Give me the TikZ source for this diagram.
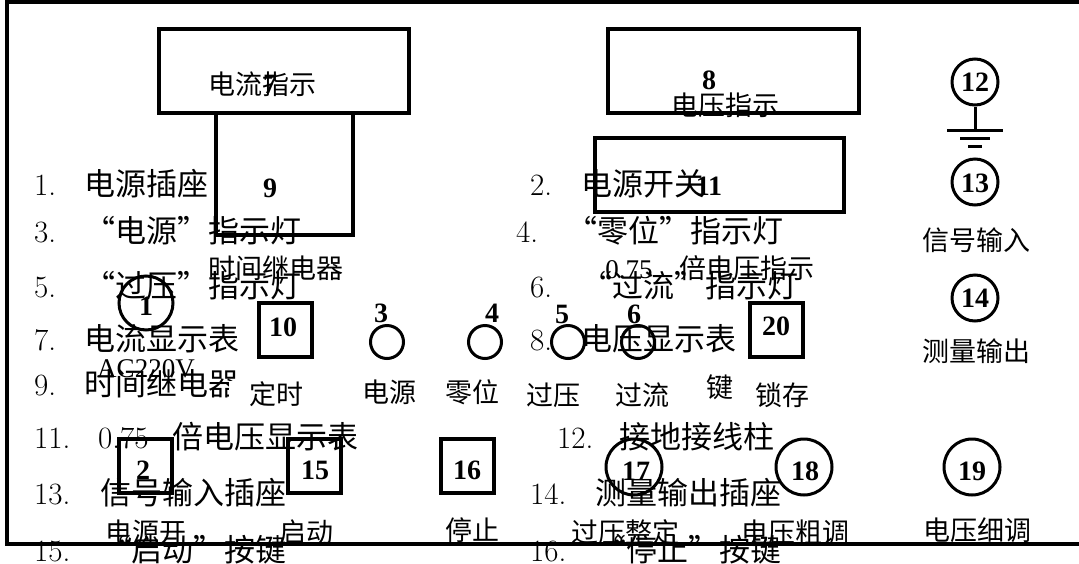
\documentclass[tikz,border=0pt]{standalone}
\usepackage{fontspec}
\newfontfamily\cjk[CharacterWidth=Full]{Noto Sans CJK SC}
\newfontfamily\tnr{Liberation Serif}
\begin{document}
\begin{tikzpicture}[x=1pt,y=-1pt,
  lnum/.style={font=\fontsize{31}{31}\selectfont, anchor=base west, inner sep=0pt},
  lst/.style={font=\cjk\fontsize{31}{31}\selectfont, anchor=base west, inner sep=0pt},
  lbl/.style={font=\cjk\fontsize{27}{27}\selectfont, inner sep=0pt},
  num/.style={font=\tnr\bfseries\fontsize{28}{28}\selectfont, inner sep=0pt},
  boxs/.style={draw, line width=4pt, inner sep=0pt},
  circs/.style={draw, circle, line width=3pt, inner sep=0pt},
  frame/.style={line width=4pt},
  gnd/.style={line width=3pt}]
\useasboundingbox (0,0) rectangle (1079,563);
% list
\node[lnum] (n1) at (34,195) {1.};   \node[lst] (t1) at (84,195) {电源插座};
\node[lnum] (n2) at (530,195) {2.};  \node[lst] (t2) at (581,195) {电源开关};
\node[lnum] (n3) at (34,242) {3.};   \node[lst] (t3) at (84,242) {“电源”指示灯};
\node[lnum] (n4) at (516,242) {4.};  \node[lst] (t4) at (566,242) {“零位”指示灯};
\node[lnum] (n5) at (34,297) {5.};   \node[lst] (t5) at (84,297) {“过压”指示灯};
\node[lnum] (n6) at (530,297) {6.};  \node[lst] (t6) at (581,297) {“过流”指示灯};
\node[lnum] (n7) at (34,350) {7.};   \node[lst] (t7) at (84,350) {电流显示表};
\node[lnum] (n8) at (530,350) {8.};  \node[lst] (t8) at (581,350) {电压显示表};
\node[lnum] (n9) at (34,395) {9.};   \node[lst] (t9) at (84,395) {时间继电器};
\node[lnum] (n11) at (34,448) {11.}; \node[lnum] (d11) at (98,448) {0.75}; \node[lst] (t11) at (172,448) {倍电压显示表};
\node[lnum] (n12) at (557,448) {12.}; \node[lst] (t12) at (619,448) {接地接线柱};
\node[lnum] (n13) at (34,504) {13.}; \node[lst] (t13) at (100,504) {信号输入插座};
\node[lnum] (n14) at (530,504) {14.}; \node[lst] (t14) at (595,504) {测量输出插座};
\node[lnum] (n15) at (34,561) {15.}; \node[lst] (t15) at (100,561) {“启动”按键};
\node[lnum] (n16) at (530,561) {16.}; \node[lst] (t16) at (595,561) {“停止”按键};
% frame
\draw[frame] (1079,2) -| (7,544) -- (1079,544);
% boxes
\node[boxs, minimum width=250pt, minimum height=84pt] (b7) at (284,71) {};
\node[boxs, minimum width=137pt, minimum height=122pt] (b9) at (284.5,174) {};
\node[boxs, minimum width=251pt, minimum height=84pt] (b8) at (733.5,71) {};
\node[boxs, minimum width=249pt, minimum height=74pt] (b11) at (719.5,175) {};
\node[boxs, minimum width=53pt, minimum height=54pt] (b10) at (285.5,330) {};
\node[boxs, minimum width=53pt, minimum height=54pt] (b20) at (776,330) {};
\node[boxs, minimum width=53pt, minimum height=54pt] (b2) at (145.5,466) {};
\node[boxs, minimum width=53pt, minimum height=54pt] (b15) at (314,466) {};
\node[boxs, minimum width=53pt, minimum height=54pt] (b16) at (467,466) {};
% circles
\node[circs, minimum size=54pt] (c1) at (146,303) {};
\node[circs, minimum size=33pt] (c3) at (387,342) {};
\node[circs, minimum size=33pt] (c4) at (485,342) {};
\node[circs, minimum size=33pt] (c5) at (568,342) {};
\node[circs, minimum size=33pt] (c6) at (638,342) {};
\node[circs, minimum size=46pt] (c12) at (975,82) {};
\node[circs, minimum size=46pt] (c13) at (975,182) {};
\node[circs, minimum size=46pt] (c14) at (975,298) {};
\node[circs, minimum size=56pt] (c17) at (634,467) {};
\node[circs, minimum size=56pt] (c18) at (804,467) {};
\node[circs, minimum size=56pt] (c19) at (972,467) {};
% ground
\coordinate (g1) at (975,130);
\draw[gnd] (c12.south) -- (g1);
\draw[gnd] (947,130) -- (1003,130);
\draw[gnd] (960,138) -- (990,138);
\draw[gnd] (968,146) -- (982,146);
% numbers
\node[num] (k1) at (146,306) {1};
\node[num] (k2) at (143,470) {2};
\node[num] (k3) at (381,313) {3};
\node[num] (k4) at (492,313) {4};
\node[num] (k5) at (562,314) {5};
\node[num] (k6) at (634,314) {6};
\node[num] (k7) at (270,84) {7};
\node[num] (k8) at (709,80) {8};
\node[num] (k9) at (270,188) {9};
\node[num] (k10) at (283,327) {10};
\node[num] (k11) at (709,186) {11};
\node[num] (k12) at (975,82) {12};
\node[num] (k13) at (975,183) {13};
\node[num] (k14) at (975,298) {14};
\node[num] (k15) at (315,470) {15};
\node[num] (k16) at (467,470) {16};
\node[num] (k17) at (636,471) {17};
\node[num] (k18) at (805,471) {18};
\node[num] (k19) at (972,471) {19};
\node[num] (k20) at (776,326) {20};
% labels
\node[lbl] (l7) at (262,84) {电流指示};
\node[lbl] (l8) at (725,105) {电压指示};
\node[lbl] (l9) at (276,268) {时间继电器};
\node[lbl] (l11) at (710,268) {{\tnr 0.75} 倍电压指示};
\node[lbl] (l13) at (976,240) {信号输入};
\node[lbl] (l14) at (976,351) {测量输出};
\node[lbl, font=\tnr\fontsize{27}{27}\selectfont] (lac) at (146,369) {AC220V};
\node[lbl, fill=white, inner xsep=20pt] (l10) at (276,394) {定时};
\node[lbl] (l3) at (389,392) {电源};
\node[lbl] (l4) at (472,392) {零位};
\node[lbl] (l5) at (553,395) {过压};
\node[lbl] (l6) at (642,395) {过流};
\node[lbl] (l20a) at (720,387) {键};
\node[lbl] (l20b) at (782,395) {锁存};
\node[lbl] (l2) at (146,532) {电源开};
\node[lbl] (l15) at (306,532) {启动};
\node[lbl] (l16) at (472,530) {停止};
\node[lbl] (l17) at (625,532) {过压整定};
\node[lbl] (l18) at (795,532) {电压粗调};
\node[lbl] (l19) at (977,530) {电压细调};
\end{tikzpicture}
\end{document}
